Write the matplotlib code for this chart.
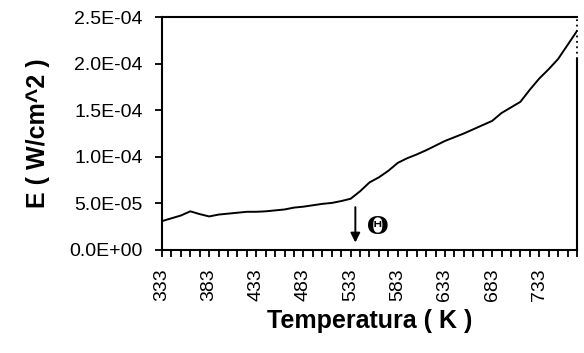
"""
Irradiance E versus temperature, with the transition marked by an arrow
"""

import numpy as np
import matplotlib
matplotlib.use("Agg")
import matplotlib.pyplot as plt
from matplotlib.ticker import FuncFormatter, MultipleLocator

plt.rcParams['font.family'] = ['Liberation Sans', 'DejaVu Sans']

# Temperatures (K), one reading every 10 K
temps = list(range(333, 783, 10))

# Irradiance (W/cm^2)
energy = [3.1e-5, 3.4e-5, 3.7e-5, 4.15e-5, 3.85e-5, 3.6e-5, 3.8e-5, 3.9e-5,
          4.0e-5, 4.1e-5, 4.1e-5, 4.15e-5, 4.25e-5, 4.35e-5, 4.55e-5, 4.65e-5,
          4.8e-5, 4.95e-5, 5.05e-5, 5.25e-5, 5.5e-5, 6.3e-5, 7.25e-5, 7.8e-5,
          8.5e-5, 9.35e-5, 9.85e-5, 1.025e-4, 1.07e-4, 1.12e-4, 1.17e-4,
          1.21e-4, 1.25e-4, 1.295e-4, 1.34e-4, 1.385e-4, 1.47e-4, 1.53e-4,
          1.59e-4, 1.72e-4, 1.84e-4, 1.94e-4, 2.05e-4, 2.2e-4, 2.35e-4]

x_labels = list(range(333, 783, 50))

fig = plt.figure(figsize=(5.84, 3.53), dpi=100)
ax = fig.add_axes([0.2774, 0.2918, 0.7106, 0.66])

ax.plot(temps, energy, color="black", linewidth=1.4)

ax.set_xlim(temps[0], temps[-1])
ax.set_ylim(0, 2.5e-4)

# y axis in Excel style scientific notation
ax.yaxis.set_major_locator(MultipleLocator(5e-5))
ax.yaxis.set_major_formatter(FuncFormatter(lambda v, p: f"{v:.1E}"))

# labelled ticks every 50 K, plain ticks every 10 K
ax.set_xticks(x_labels)
ax.set_xticklabels([str(t) for t in x_labels], rotation=90)
ax.set_xticks(temps, minor=True)

ax.tick_params(axis="both", which="both", direction="out", width=1.3,
               length=5, labelsize=14, colors="black")
ax.tick_params(axis="x", which="both", pad=8)
ax.tick_params(axis="y", which="both", pad=9)

for side in ["left", "bottom", "top"]:
    ax.spines[side].set_linewidth(1.5)

# right border: dotted at the top, solid below
ax.spines["right"].set_visible(False)
ax.plot([1, 1], [0.82, 1.0], transform=ax.transAxes, color="black",
        linewidth=1.3, linestyle=(0, (1, 2)), clip_on=False)
ax.plot([1, 1], [0, 0.82], transform=ax.transAxes, color="black",
        linewidth=1.5, clip_on=False)

ax.set_xlabel("Temperatura ( K )", fontsize=18, fontweight="bold", labelpad=6)
ax.set_ylabel("E ( W/cm^2 )", fontsize=18, fontweight="bold", labelpad=14)

# transition marker
ax.annotate("", xy=(538, 0.5e-5), xytext=(538, 4.9e-5),
            arrowprops=dict(arrowstyle="-|>", color="black", lw=1.4,
                            mutation_scale=14))
ax.text(550, 2.5e-5, "Θ", fontsize=18, fontweight="bold",
        family=["DejaVu Serif"], va="center", ha="left")

plt.savefig("out.png", dpi=100)
plt.close()
